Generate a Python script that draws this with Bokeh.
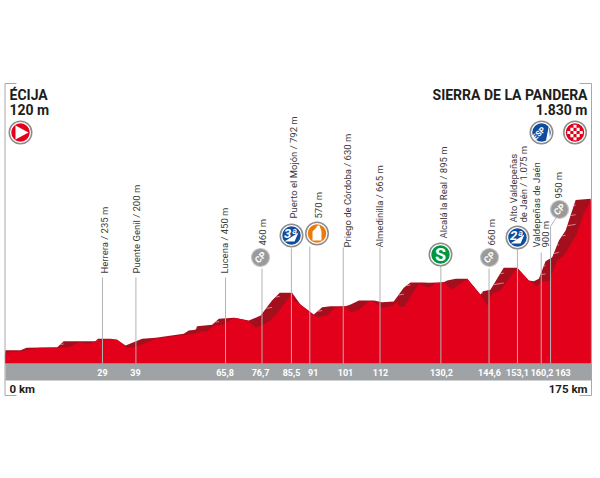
from bokeh.plotting import figure
from bokeh.embed import file_html
from bokeh.resources import INLINE
from bokeh.core.properties import value
from bokeh.models import Range1d
import math

# ---- data ----
front_km = [0,4.5,6,10,15.5,19,22,25,27.4,31.4,33.4,36.2,38.4,41.4,44.9,56.8,58.8,60.3,62.3,65.3,68.3,70.8,72.8,74.8,76.3,79.2,81.2,85.7,86.2,88.2,92.2,93.2,96.2,98.7,101.7,103.2,105.7,108.7,110.2,112.6,116.1,116.9,118.1,119.3,123.6,126.6,128.6,131.1,133.6,138.1,142.0,144.0,145.5,148.0,153.0,156.5,159.0,160.5,162.5,165.0,167.0,170.9,172.9,175]
front_m = [120,138,145,175,175,182,238,220,257,272,265,175,182,220,280,332,362,362,425,436,511,496,470,399,421,481,556,791,705,660,537,518,537,630,638,574,601,698,698,623,649,694,630,638,892,847,899,910,825,948,772,649,780,817,1071,929,866,922,922,1153,1209,1452,1676,1830]
top_km = [0,4.5,6.3,15.5,17.4,26.9,27.6,31.4,33.4,35.9,40.9,44.9,53.3,54.8,56.8,57.3,61.8,63.8,68.3,72.8,76.3,79.7,82.0,85.7,88.2,92.2,94.7,97.2,101.7,103.2,105.7,110.2,112.6,116.1,119.1,121.1,125.1,126.6,131.1,132.1,134.6,138.1,142,142.8,145,149,153,156.5,158,159.5,161.5,163.5,165.5,167.5,170.5,175]
top_m = [149,149,175,182,250,250,276,276,265,201,276,287,332,369,377,418,433,500,511,481,537,705,791,791,660,548,630,642,642,660,705,705,686,694,847,907,907,903,910,929,948,948,772,810,825,1071,1071,929,922,948,1146,1190,1377,1489,1832,1844]
marker_km = [29,39,65.8,76.7,85.5,91,101,112,130.2,144.6,153.1,160.2,163]
marker_lab = ["29","39","65,8","76,7","85,5","91","101","112","130,2","144,6","153,1","160,2","163"]
start_name, start_alt = "ÉCIJA", "120 m"
end_name, end_alt = "SIERRA DE LA PANDERA", "1.830 m"
start_lab, end_lab = "0 km", "175 km"

# ---- scales: 3.344 px per km, 0.0893 px per metre, ground at px 363 ----
W, H = 600, 478
PXK, PXM = 3.344, 0.0893
X = lambda px: (px - 5) / PXK
Y = lambda py: (363 - py) / PXM

p = figure(width=W, height=H, output_backend="svg", toolbar_location=None,
           x_range=Range1d(X(0), X(W)), y_range=Range1d(Y(H), Y(0)),
           min_border=0, outline_line_color=None)
p.axis.visible = False
p.grid.visible = False
p.background_fill_color = "white"

FONT = value("Roboto")
GREY = "#a0a3a6"
RED, DARK = "#e2001a", "#a30f1d"

# frame
for xs, ys in [([16,4.5,4.5,16],[83,83,395,395]), ([579,591,591,579],[83,83,395,395])]:
    p.line([X(v) for v in xs], [Y(v) for v in ys], line_color="#a8a8a8", line_width=1)

# profile
p.patch([0]+top_km+[175], [0]+top_m+[0], fill_color=DARK, line_color=None)
# hatch lines on the dark band: they start at its upper edge and run right, under the front face
for a in range(len(top_km)-1):
    dk = top_km[a+1]-top_km[a]; dm = top_m[a+1]-top_m[a]
    if dk > 0 and dm/dk > 25:
        n = max(1, int(dm/90))
        for i in range(n):
            t = (i+0.5)/n
            k, m = top_km[a]+t*dk, top_m[a]+t*dm
            ke = min(k+5, top_km[a+1])
            p.line([k, ke], [m-4, m-4+6.6*(ke-k)], line_color="#e0a0a6", line_width=0.8)
p.patch([0]+front_km+[175], [0]+front_m+[0], fill_color=RED, line_color=None)

# grey bar
p.quad(left=0, right=X(591), top=0, bottom=Y(380), fill_color=GREY, line_color=None)

# marker lines
tops = [277,277,277,268,248,246,247,247,265,268,249,252,226]
for k, t in zip(marker_km, tops):
    p.line([k,k],[Y(t),Y(363)], line_color="#b4b4b4", line_width=1)
p.line([X(550),X(559)],[Y(226),Y(212)], line_color="#b4b4b4", line_width=1)

# km labels (their pixel centres: the last two sit beside their lines)
label_px = [102,135,224.5,260,291,312.7,345,380,441,489,517,541.6,562.5]
p.text([X(v) for v in label_px], [Y(371.5)]*len(label_px), text=marker_lab, text_color="white", text_font=FONT,
       text_font_size="9px", text_font_style="bold", text_align="center", text_baseline="middle")

# headings
def txt(px, py, s, size, align="left", bold=False, color="#1d1d1b", angle=0):
    p.text([X(px)],[Y(py)], text=[s], text_font=FONT, text_font_size=f"{size}px",
           text_font_style="bold" if bold else "normal", text_color=color, text_align=align,
           text_baseline="middle", angle=angle)
txt(9, 94, start_name, 14, bold=True)
txt(9, 109.5, start_alt, 14, bold=True)
txt(587, 94, end_name, 14, "right", True)
txt(587, 109.5, end_alt, 14, "right", True)
txt(9, 388, start_lab, 11.5, bold=True)
txt(587, 388, end_lab, 11.5, "right", True)

# rotated names
names = [(103.7,273,"Herrera / 235 m"),(136,273,"Puente Genil / 200 m"),(223.7,273,"Lucena / 450 m"),
         (261.7,245,"460 m"),(292.5,218,"Puerto el Mojón / 792 m"),(318,218,"570 m"),
         (346.6,247,"Priego de Córdoba / 630 m"),(379,247,"Almedinilla / 665 m"),
         (443,238,"Alcalá la Real / 895 m"),(490.8,245,"660 m"),
         (513,222,"Alto Valdepeñas"),(523,222,"de Jaén / 1.075 m"),
         (536,247,"Valdepeñas de Jaén"),(545,247,"900 m"),(558,198,"950 m")]
for px, py, s in names:
    txt(px, py, s, 9.5, color="#3c3c3b", angle=math.pi/2)

# icons
def ring(cx, cy, col, rim="#8c8c8c"):
    p.scatter([X(cx)],[Y(cy)], size=24, fill_color=rim, line_color=None)
    p.scatter([X(cx)],[Y(cy)], size=21, fill_color="white", line_color=None)
    p.scatter([X(cx)],[Y(cy)], size=18.5, fill_color=col, line_color=None)
def poly(pts, col):
    p.patch([X(a) for a,b in pts],[Y(b) for a,b in pts], fill_color=col, line_color=None)

ring(20,132,RED)
poly([(15,125),(28,132),(15,139)],"white")
# ESP
ring(541,132,"#0f4c9c")
poly([(548.5,124.5),(549.5,138),(545.5,140)],"white")
p.text([X(538.5)],[Y(133)],text=["ESP"],text_font=FONT,text_font_size="8px",text_font_style="bold",
       text_color="white",text_align="center",text_baseline="middle",angle=math.pi/4)
# checker
ring(574.5,132,RED)
for i in range(-2,3):
    for j in range(-2,3):
        if (i+j)%2==0 and i*i+j*j<7:
            p.scatter([X(574.5+i*3.1)],[Y(132+j*3.1)],marker="square",size=3.1,fill_color="white",line_color=None)
# category climbs
def climb(cx, cy, s):
    ring(cx, cy, "#0f4c9c")
    poly([(cx-7,cy+6),(cx+7,cy-3),(cx+3,cy+6)],"white")
    p.text([X(cx-1)],[Y(cy-2)],text=[s],text_font=FONT,text_font_size="13px",text_font_style="bold italic",
           text_color="white",text_align="center",text_baseline="middle")
climb(291,235,"3ª")
climb(517,237,"2ª")
# feed
ring(316.5,233,"#ec7a08")
poly([(312,240),(312,231),(315,228),(317,225),(319,225),(320,228),(321,231),(321,240)],"white")
# sprint
ring(440,254,"#009640")
p.text([X(440)],[Y(254)],text=["S"],text_font=FONT,text_font_size="18px",text_font_style="bold",
       text_color="white",text_align="center",text_baseline="middle")
# checkpoints
for cx, cy in [(260,257),(489,257),(559,209)]:
    p.scatter([X(cx)],[Y(cy)],size=18,fill_color="#9a9a9a",line_color="#c4c4c4",line_width=1.2)
    p.text([X(cx)],[Y(cy)],text=["CP"],text_font=FONT,text_font_size="9px",text_font_style="bold",
           text_color="white",text_align="center",text_baseline="middle",angle=math.pi/4)

open("out.html","w").write(file_html(p, INLINE))
